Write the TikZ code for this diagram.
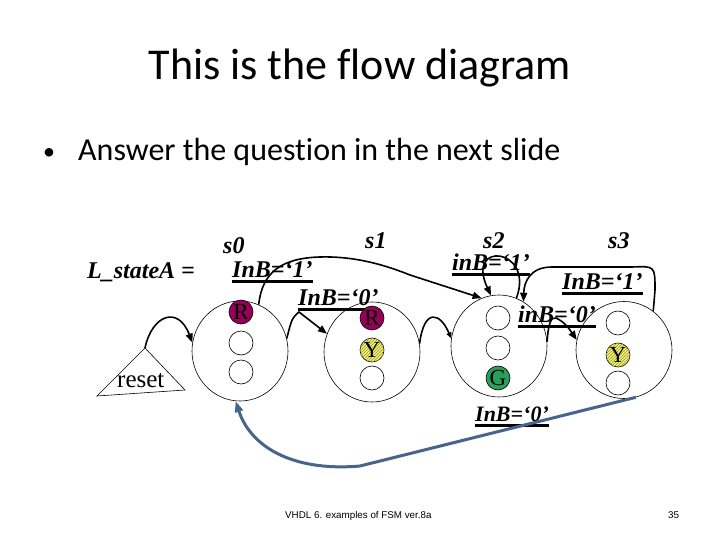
\documentclass[tikz,border=0pt]{standalone}
\usepackage{fontspec}
\setmainfont{Liberation Serif}
\newfontfamily\calfont[Ligatures=NoCommon]{Carlito}
\newfontfamily\arialfont{Liberation Sans}
\usetikzlibrary{shapes.geometric,arrows.meta,patterns}

\definecolor{rfill}{RGB}{150,0,90}
\definecolor{yfill}{RGB}{245,245,110}
\definecolor{gfill}{RGB}{40,160,90}
\definecolor{bluegray}{RGB}{72,100,138}

\tikzset{
 state/.style={draw, ellipse, line width=0.6pt, minimum width=96pt, minimum height=100pt, inner sep=0},
 lamp/.style={draw, circle, line width=0.6pt, fill=white, minimum size=24pt, inner sep=0, font=\fontsize{23}{23}\selectfont},
 lbl/.style={anchor=base west, inner sep=0, font=\bfseries\itshape\fontsize{24}{24}\selectfont},
 uline/.style={line width=2.6pt},
 arr/.style={line width=1.6pt, -{Triangle[length=9pt,width=7pt]}},
 blue arr/.style={line width=3pt, draw=bluegray, -{Triangle[length=11pt,width=8pt]}},
}

\begin{document}
\begin{tikzpicture}[x=1pt,y=-1pt]
\useasboundingbox[fill=white] (0,0) rectangle (720,540);

% title and bullet
\node[anchor=base, inner sep=0, font=\calfont\fontsize{44}{52}\selectfont] (title) at (360,80) {This is the flow diagram};
\node[anchor=base west, inner sep=0, font=\calfont\fontsize{24}{28}\selectfont] (bullet) at (43,160) {•};
\node[anchor=base west, inner sep=0, font=\calfont\fontsize{32}{36}\selectfont] (question) at (78,161) {Answer the question in the next slide};

% state names
\node[lbl] (lstate) at (87,278) {L\_stateA =};
\node[lbl] (n0) at (223,253) {s0};
\node[lbl] (n1) at (365,248) {s1};
\node[lbl] (n2) at (483,248) {s2};
\node[lbl] (n3) at (608,248) {s3};

% condition labels
\node[lbl] (c01) at (232,277) {InB=‘1’};
\node[lbl] (c00) at (298,305) {InB=‘0’};
\node[lbl] (c21) at (452,270) {inB=‘1’};
\node[lbl] (c31) at (562,289) {InB=‘1’};
\node[lbl] (c20) at (518,322) {inB=‘0’};
\node[lbl, font=\bfseries\itshape\fontsize{22}{22}\selectfont] (c30) at (475,421) {InB=‘0’};
\foreach \n in {c01,c00,c21,c31,c20,c30}
  \draw[uline] ([yshift=-4.5pt]\n.base west) -- ([yshift=-4.5pt]\n.base east);

% states
\node[state] (S0) at (240,351) {};
\node[state] (S1) at (372,352) {};
\node[state, minimum height=102pt] (S2) at (499,346) {};
\node[state, minimum height=97pt] (S3) at (624,350) {};

% reset triangle
\coordinate (rl) at (97,396);
\coordinate (rapex) at (145,348);
\coordinate (rr) at (185,390);
\draw[line width=0.6pt] (rl) -- (rapex) -- (rr) -- cycle;
\node[anchor=base west, inner sep=0, font=\fontsize{25}{25}\selectfont] (reset) at (117,387) {reset};

% connectors
\draw[arr] (rapex) .. controls (152,315) and (178,305) .. (S0.170);
\draw[arr] (S0.15) .. controls (292,318) .. (299,312) -- (S1.158);
\draw[arr] (S0.68) .. controls (262,272) and (282,258) .. (320,257)
   .. controls (355,256) and (385,265) .. (410,275) -- (S2.110);
\draw[arr, -{Triangle[length=6pt,width=5pt]}] (S1.10) .. controls (424,308) and (440,312) .. (S2.171);
\draw[arr] (S2.70) .. controls (535,248) and (465,240) .. (S2.99);
\draw[arr] (S3.53) -- (655,290) .. controls (655,266) .. (632,267) -- (552,267)
   .. controls (530,267) and (524,282) .. (S2.61);
\draw[arr] (S2.5) .. controls (548,325) and (551,316) .. (556,318)
   .. controls (565,322) and (570,330) .. (S3.168);
\draw[blue arr] (S3.-76) -- (360,466) .. controls (290,472) and (250,445) .. (S0.-95);

% lamps
\node[lamp, fill=rfill] (l0a) at (241,312) {R};
\node[lamp] (l0b) at (241,343) {};
\node[lamp] (l0c) at (241,372) {};
\node[lamp, fill=rfill] (l1a) at (372,318) {R};
\node[lamp, fill=yfill, postaction={pattern=north east lines, pattern color=yfill!60!black}] (l1b) at (372,350) {Y};
\node[lamp] (l1c) at (372,378) {};
\node[lamp] (l2a) at (498,318) {};
\node[lamp] (l2b) at (498,348) {};
\node[lamp, fill=gfill] (l2c) at (498,378) {G};
\node[lamp] (l3a) at (618,323) {};
\node[lamp, fill=yfill, postaction={pattern=north east lines, pattern color=yfill!60!black}] (l3b) at (618,355) {Y};
\node[lamp] (l3c) at (618,383) {};

% footer
\node[anchor=base west, inner sep=0, font=\arialfont\fontsize{9.8}{11}\selectfont] (footer) at (285,518) {VHDL 6. examples of FSM ver.8a};
\node[anchor=base west, inner sep=0, font=\arialfont\fontsize{9.8}{11}\selectfont] (pageno) at (668,518) {35};
\end{tikzpicture}
\end{document}
